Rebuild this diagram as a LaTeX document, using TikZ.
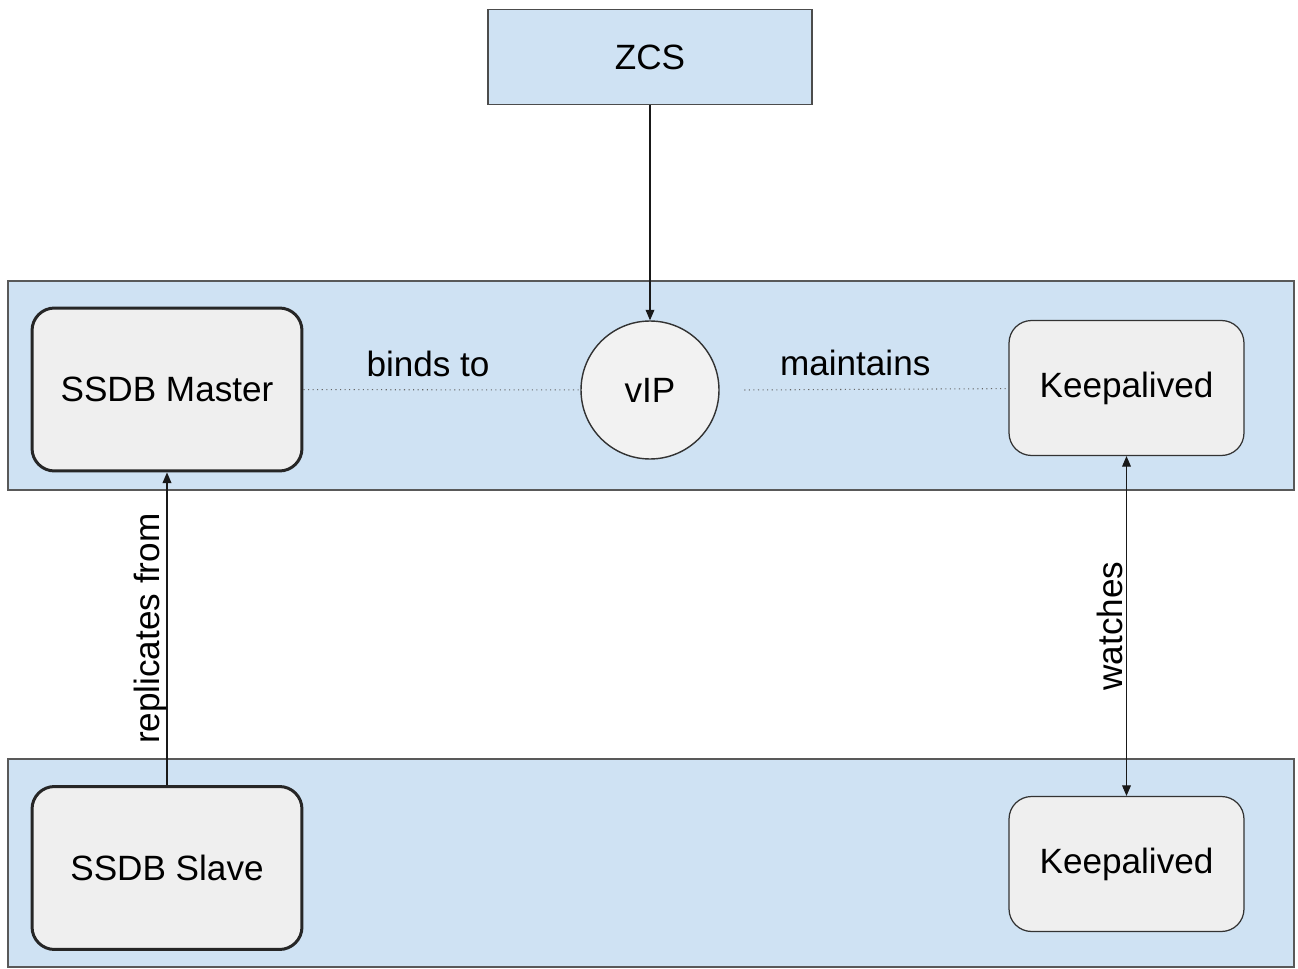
\documentclass[tikz,border=0pt]{standalone}
\usepackage{fontspec}
\setmainfont{Liberation Sans}
\usepackage{xcolor}
\usepackage{tikz}
\usetikzlibrary{arrows.meta, positioning}

\definecolor{bandblue}{HTML}{CFE2F3}
\definecolor{boxgray}{HTML}{EFEFEF}
\definecolor{lineink}{HTML}{333333}

\tikzset{
  band/.style={draw=black!65, fill=bandblue, line width=0.9pt, minimum width=25.72cm, minimum height=4.17cm, inner sep=0pt},
  dbbox/.style={draw=black!85, fill=boxgray, line width=1.7pt, rounded corners=0.45cm, minimum width=5.4cm, minimum height=3.26cm},
  kabox/.style={draw=lineink, fill=boxgray, line width=0.7pt, rounded corners=0.45cm, minimum width=4.7cm, minimum height=2.7cm},
  link/.style={-{Triangle[length=6pt, width=5pt]}, line width=0.6pt, draw=black!90},
  tie/.style={dotted, draw=black!60, line width=0.6pt},
}

\begin{document}
\begin{tikzpicture}[x=0.02cm, y=-0.02cm, every node/.style={font=\fontsize{20}{24}\selectfont}]
\useasboundingbox[fill=white] (0,0) rectangle (1298,969);

% two hosts
\node[band] (hosta) at (651,385.5) {};
\node[band] (hostb) at (651,863) {};

\node[draw=black!70, fill=bandblue, line width=0.9pt, minimum width=6.48cm, minimum height=1.9cm] (zcs) at (650,57) {ZCS};

\node[dbbox] (master) at (167,389.5) {SSDB Master};
\node[circle, draw=lineink, fill=black!5, line width=0.8pt, minimum size=2.76cm, inner sep=0pt] (vip) at (650,390) {vIP};
\node[kabox] (kta) at (1126.5,388) {Keepalived};

\node[dbbox] (slave) at (167,868) {SSDB Slave};
\node[kabox] (ktb) at (1126.5,864) {Keepalived};

\draw[link] (zcs) -- (vip);
\draw[tie] (master) -- node[pos=0.45, above=4pt]{binds to} (vip);
\draw[tie] ([xshift=14pt]vip.east) -- node[pos=0.42, above=4pt]{maintains} (kta);
\draw[link] (slave) -- node[midway, above=-2pt, sloped, inner sep=2pt]{replicates from} (master);
\draw[link, {Triangle[length=6pt, width=5pt]}-{Triangle[length=6pt, width=5pt]}] (ktb) -- node[midway, above=0pt, sloped, inner sep=2pt]{watches} (kta);
\end{tikzpicture}
\end{document}
